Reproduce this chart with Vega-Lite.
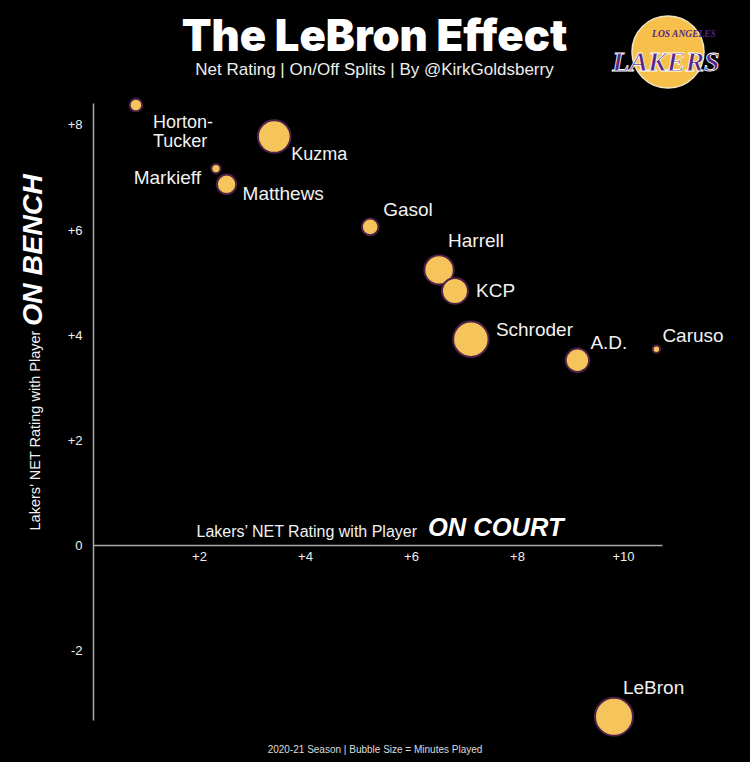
{
  "$schema": "https://vega.github.io/schema/vega-lite/v6.json",
  "width": 569,
  "height": 617,
  "autosize": {"type": "none"},
  "padding": {"left": 93, "top": 103, "right": 88, "bottom": 42},
  "background": "#000000",
  "config": {"view": {"stroke": null}, "font": "Liberation Sans"},
  "title": {
    "text": "The LeBron Effect",
    "subtitle": "Net Rating | On/Off Splits | By @KirkGoldsberry",
    "anchor": "middle",
    "frame": "group",
    "dx": -3,
    "offset": -66,
    "font": "Inter",
    "fontSize": 43.5,
    "fontWeight": 900,
    "color": "#ffffff",
    "subtitleFont": "Liberation Sans",
    "subtitleFontSize": 17,
    "subtitleColor": "#eeeeee",
    "subtitlePadding": 2
  },
  "data": {
    "values": [
      {"player": "Horton-\nTucker", "on_court": 0.81, "on_bench": 8.38, "minutes": 156},
      {"player": "Kuzma", "on_court": 3.42, "on_bench": 7.78, "minutes": 1044},
      {"player": "Markieff", "on_court": 2.32, "on_bench": 7.17, "minutes": 86},
      {"player": "Matthews", "on_court": 2.52, "on_bench": 6.87, "minutes": 370},
      {"player": "Gasol", "on_court": 5.23, "on_bench": 6.06, "minutes": 270},
      {"player": "Harrell", "on_court": 6.53, "on_bench": 5.24, "minutes": 849},
      {"player": "KCP", "on_court": 6.83, "on_bench": 4.84, "minutes": 664},
      {"player": "Schroder", "on_court": 7.13, "on_bench": 3.92, "minutes": 1230},
      {"player": "A.D.", "on_court": 9.14, "on_bench": 3.52, "minutes": 538},
      {"player": "Caruso", "on_court": 10.63, "on_bench": 3.73, "minutes": 54},
      {"player": "LeBron", "on_court": 9.83, "on_bench": -3.27, "minutes": 1418}
    ]
  },
  "layer": [
    {
      "mark": {"type": "circle", "fill": "#F5C55C", "opacity": 1, "stroke": "#4e2148", "strokeWidth": 2},
      "encoding": {
        "x": {
          "field": "on_court",
          "type": "quantitative",
          "scale": {"domain": [0, 10.736], "nice": false, "zero": false},
          "axis": {
            "orient": "bottom",
            "offset": -175,
            "values": [2, 4, 6, 8, 10],
            "labelExpr": "'+' + datum.value",
            "domainColor": "#a8a8a8",
            "domainWidth": 1.5,
            "ticks": false,
            "tickSize": 0,
            "grid": false,
            "labelColor": "#f0f0f0",
            "labelFontSize": 13,
            "labelPadding": 5,
            "title": "Lakers’ NET Rating with Player",
            "titleColor": "#f2f2f2",
            "titleFontSize": 16,
            "titleFontWeight": "normal",
            "titleX": 103,
            "titleY": -9,
            "titleAlign": "left",
            "titleBaseline": "alphabetic"
          }
        },
        "y": {
          "field": "on_bench",
          "type": "quantitative",
          "scale": {"domain": [-3.333, 8.419], "nice": false, "zero": false},
          "axis": {
            "orient": "left",
            "values": [-2, 0, 2, 4, 6, 8],
            "labelExpr": "datum.value > 0 ? '+' + datum.value : '' + datum.value",
            "domainColor": "#a8a8a8",
            "domainWidth": 1.5,
            "ticks": false,
            "tickSize": 0,
            "grid": false,
            "labelColor": "#f0f0f0",
            "labelFontSize": 13,
            "labelPadding": 11,
            "title": "Lakers’ NET Rating with Player",
            "titleColor": "#f2f2f2",
            "titleFontSize": 14.5,
            "titleFontWeight": "normal",
            "titleAngle": 270,
            "titleX": -54,
            "titleY": 427,
            "titleAlign": "left",
            "titleBaseline": "alphabetic"
          }
        },
        "size": {"field": "minutes", "type": "quantitative", "scale": {"domain": [0, 1500], "range": [0, 1530]}, "legend": null}
      }
    },
    {
      "transform": [{"filter": {"field": "player", "oneOf": ["Horton-\nTucker", "Kuzma"]}}],
      "mark": {"type": "text", "align": "left", "baseline": "alphabetic", "dx": 17, "dy": 23, "fontSize": 18, "color": "#f2f2f2", "lineBreak": "\n", "lineHeight": 19},
      "encoding": {"x": {"field": "on_court", "type": "quantitative"}, "y": {"field": "on_bench", "type": "quantitative"}, "text": {"field": "player"}}
    },
    {
      "transform": [{"filter": {"field": "player", "oneOf": ["Matthews"]}}],
      "mark": {"type": "text", "align": "left", "baseline": "alphabetic", "dx": 16, "dy": 16, "fontSize": 19, "color": "#f2f2f2"},
      "encoding": {"x": {"field": "on_court", "type": "quantitative"}, "y": {"field": "on_bench", "type": "quantitative"}, "text": {"field": "player"}}
    },
    {
      "transform": [{"filter": {"field": "player", "oneOf": ["Markieff"]}}],
      "mark": {"type": "text", "align": "right", "baseline": "alphabetic", "dx": -15, "dy": 15, "fontSize": 19, "color": "#f2f2f2"},
      "encoding": {"x": {"field": "on_court", "type": "quantitative"}, "y": {"field": "on_bench", "type": "quantitative"}, "text": {"field": "player"}}
    },
    {
      "transform": [{"filter": {"field": "player", "oneOf": ["Gasol", "A.D."]}}],
      "mark": {"type": "text", "align": "left", "baseline": "alphabetic", "dx": 13, "dy": -11, "fontSize": 19, "color": "#f2f2f2"},
      "encoding": {"x": {"field": "on_court", "type": "quantitative"}, "y": {"field": "on_bench", "type": "quantitative"}, "text": {"field": "player"}}
    },
    {
      "transform": [{"filter": {"field": "player", "oneOf": ["Harrell", "LeBron"]}}],
      "mark": {"type": "text", "align": "left", "baseline": "alphabetic", "dx": 9, "dy": -23, "fontSize": 19, "color": "#f2f2f2"},
      "encoding": {"x": {"field": "on_court", "type": "quantitative"}, "y": {"field": "on_bench", "type": "quantitative"}, "text": {"field": "player"}}
    },
    {
      "transform": [{"filter": {"field": "player", "oneOf": ["KCP"]}}],
      "mark": {"type": "text", "align": "left", "baseline": "alphabetic", "dx": 21, "dy": 6, "fontSize": 19, "color": "#f2f2f2"},
      "encoding": {"x": {"field": "on_court", "type": "quantitative"}, "y": {"field": "on_bench", "type": "quantitative"}, "text": {"field": "player"}}
    },
    {
      "transform": [{"filter": {"field": "player", "oneOf": ["Schroder"]}}],
      "mark": {"type": "text", "align": "left", "baseline": "alphabetic", "dx": 25, "dy": -3, "fontSize": 19, "color": "#f2f2f2"},
      "encoding": {"x": {"field": "on_court", "type": "quantitative"}, "y": {"field": "on_bench", "type": "quantitative"}, "text": {"field": "player"}}
    },
    {
      "transform": [{"filter": {"field": "player", "oneOf": ["Caruso"]}}],
      "mark": {"type": "text", "align": "left", "baseline": "alphabetic", "dx": 6, "dy": -7, "fontSize": 19, "color": "#f2f2f2"},
      "encoding": {"x": {"field": "on_court", "type": "quantitative"}, "y": {"field": "on_bench", "type": "quantitative"}, "text": {"field": "player"}}
    },
    {
      "data": {"values": [{"note": "ON COURT"}]},
      "mark": {"type": "text", "align": "left", "baseline": "alphabetic", "fontSize": 25.5, "fontWeight": "bold", "fontStyle": "italic", "color": "#ffffff"},
      "encoding": {
        "x": {"datum": 6.321, "type": "quantitative"},
        "y": {"datum": 0.171, "type": "quantitative"},
        "text": {"field": "note"}
      }
    },
    {
      "data": {"values": [{"note": "ON BENCH"}]},
      "mark": {"type": "text", "align": "left", "baseline": "alphabetic", "angle": 270, "fontSize": 28.5, "fontWeight": "bold", "fontStyle": "italic", "color": "#ffffff"},
      "encoding": {
        "x": {"datum": -0.968, "type": "quantitative"},
        "y": {"datum": 4.17, "type": "quantitative"},
        "text": {"field": "note"}
      }
    },
    {
      "data": {"values": [{"note": "2020-21 Season | Bubble Size = Minutes Played"}]},
      "mark": {"type": "text", "align": "center", "baseline": "alphabetic", "fontSize": 10, "color": "#dddddd"},
      "encoding": {
        "x": {"datum": 5.321, "type": "quantitative"},
        "y": {"datum": -3.962, "type": "quantitative"},
        "text": {"field": "note"}
      }
    },
    {
      "data": {"values": [{"logo": "Los Angeles Lakers"}]},
      "mark": {"type": "circle", "size": 5184, "fill": "#F7C04A", "opacity": 1, "stroke": "#f3e6c0", "strokeWidth": 1.5},
      "encoding": {
        "x": {"datum": 10.849, "type": "quantitative"},
        "y": {"datum": 9.39, "type": "quantitative"}
      }
    },
    {
      "data": {"values": [{"logo": "LAKERS"}]},
      "mark": {"type": "text", "align": "center", "baseline": "alphabetic", "font": "Liberation Serif", "fontSize": 28, "fontWeight": "bold", "fontStyle": "italic", "fill": "#552583", "stroke": "#ffffff", "strokeWidth": 0.8},
      "encoding": {
        "x": {"datum": 10.811, "type": "quantitative"},
        "y": {"datum": 9.03, "type": "quantitative"},
        "text": {"field": "logo"}
      }
    },
    {
      "data": {"values": [{"logo": "LOS ANGELES"}]},
      "mark": {"type": "text", "align": "center", "baseline": "alphabetic", "font": "Liberation Serif", "fontSize": 9.5, "fontWeight": "bold", "fontStyle": "italic", "fill": "#552583"},
      "encoding": {
        "x": {"datum": 11.151, "type": "quantitative"},
        "y": {"datum": 9.68, "type": "quantitative"},
        "text": {"field": "logo"}
      }
    }
  ]
}
